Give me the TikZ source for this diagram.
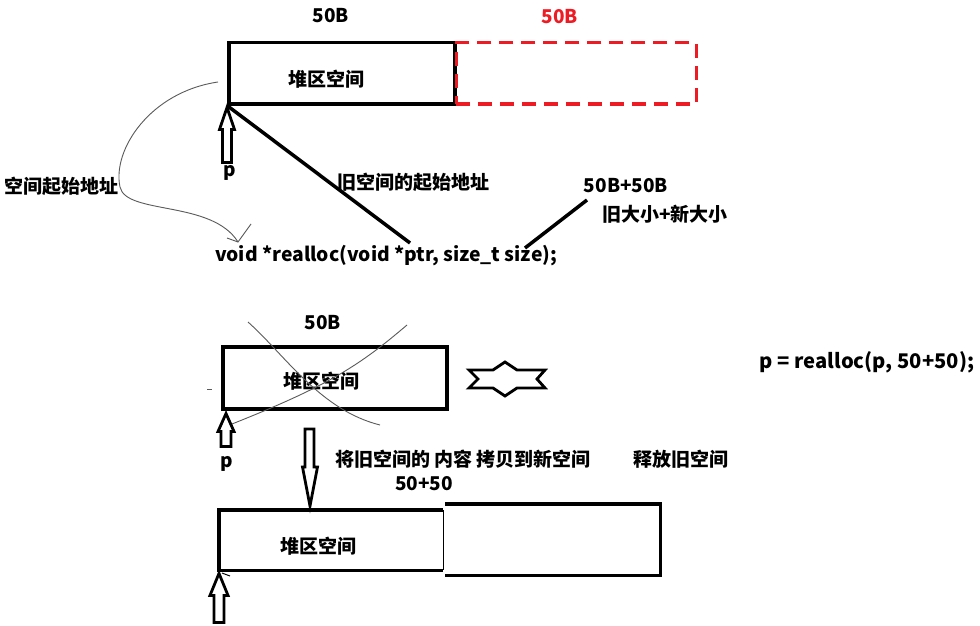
\documentclass[tikz,border=0pt]{standalone}
\usepackage{fontspec}
\newfontfamily\cjk{Noto Sans CJK SC}
\tikzset{
  txt/.style={font=\cjk\bfseries\fontsize{19}{22}\selectfont, inner sep=0pt, text=black},
  heapbox/.style={draw=black, line width=3.5pt, inner sep=0pt},
  redbox/.style={draw={rgb,255:red,237;green,28;blue,36}, line width=3.5pt, dash pattern=on 14pt off 8pt, inner sep=0pt},
  plainbox/.style={draw=none, inner sep=0pt},
  thickline/.style={draw=black, line width=3.5pt},
  hollow/.style={draw=black, fill=white, line width=2.8pt, line join=miter},
  thinpen/.style={draw={rgb,255:red,90;green,90;blue,90}, line width=0.9pt},
}
\begin{document}
\begin{tikzpicture}[x=1pt,y=-1pt]
\useasboundingbox[fill=white] (0,0) rectangle (980,626);

% ---------- top section ----------
\node[heapbox, minimum width=226pt, minimum height=61pt, anchor=north west] (box1) at (227,41) {};
\node[redbox, minimum width=240pt, minimum height=61pt, anchor=north west] (rbox) at (454.5,41) {};
\node[txt] (b1txt) at (326,79) {堆区空间};
\node[txt] (size1) at (331,16) {50B};
\node[txt, text={rgb,255:red,237;green,28;blue,36}] (size2) at (560,17) {50B};

\draw[hollow, shift={(box1.south west)}] (0,2) -- (7.5,24) -- (4.5,24) -- (4.5,57) -- (-4.5,57) -- (-4.5,24) -- (-7.5,24) -- cycle;
\node[txt] (p1) at (230,173) {p};

\node[txt] (startaddr) at (62,186) {空间起始地址};
\node[txt] (oldaddr) at (413,182) {旧空间的起始地址};
\node[txt] (sum1) at (626,186) {50B+50B};
\node[txt] (sum1cn) at (665,214) {旧大小+新大小};
\node[txt, font=\cjk\bfseries\fontsize{19.3}{22}\selectfont] (proto) at (386,256) {void *realloc(void *ptr, size\_t size);};

\coordinate (diagend) at (410,243);
\draw[thickline] (box1.south west) -- (diagend);
\coordinate (sizea) at (587,200);
\coordinate (sizeb) at (525,248);
\draw[thickline] (sizea) -- (sizeb);

\coordinate (curvestart) at (218,82);
\coordinate (curveend) at (238,242);
\draw[thinpen] (curvestart) .. controls (150,92) and (112,150) .. (120,187)
  .. controls (126,215) and (212,200) .. (curveend);
\draw[thinpen] (227,238) -- (curveend) -- (251,224);

% ---------- middle section ----------
\node[heapbox, minimum width=224pt, minimum height=62pt, anchor=north west] (box2) at (221,345) {};
\node[txt] (b2txt) at (321,381) {堆区空间};
\node[txt] (size3) at (323,323) {50B};
\draw[thinpen] (248,322) .. controls (285,355) and (320,410) .. (380,425);
\draw[thinpen] (407,325) .. controls (360,365) and (330,385) .. (232,424);
\coordinate (tick1) at (207,389);
\coordinate (tick2) at (212,389);
\draw[thinpen] (tick1) -- (tick2);

\draw[hollow, shift={(box2.south west)}] (5,3) -- (13,21) -- (10,21) -- (10,36) -- (0,36) -- (0,21) -- (-3,21) -- cycle;
\node[txt] (p2) at (227,464) {p};

\draw[hollow, line width=2.8pt] (505,362) -- (517,370) -- (545,370) -- (537,379) -- (545,388) -- (517,388)
  -- (505,396) -- (493,388) -- (469,388) -- (478,379) -- (469,370) -- (493,370) -- cycle;

\node[txt, font=\cjk\bfseries\fontsize{20.2}{23}\selectfont] (call) at (867,362) {p = realloc(p, 50+50);};

\node[txt] (copy) at (463,459) {将旧空间的 内容 拷贝到新空间};
\node[txt] (free) at (681,459) {释放旧空间};
\node[txt] (sum2) at (424,484) {50+50};

% ---------- bottom section ----------
\node[plainbox, minimum width=224pt, minimum height=60pt, anchor=north west] (box3) at (219,510) {};
\node[txt] (b3txt) at (318,546) {堆区空间};
\draw[thickline] (box3.north east) -- (box3.north west) -- (box3.south west) -- (box3.south east);
\draw[black, line width=1.6pt] (box3.north east) -- (box3.south east);
\node[plainbox, minimum width=215pt, minimum height=71pt, anchor=north west] (box4) at (445,504) {};
\draw[thickline] (box4.north west) -- (box4.north east) -- (box4.south east) -- (box4.south west);

\draw[hollow, shift={(309.5,429)}] (-4.5,0) -- (4.5,0) -- (4.5,38) -- (8,38) -- (0.5,77) -- (-7,38) -- (-4.5,38) -- cycle;

\draw[hollow, shift={(box3.south west)}] (0,3) -- (9,25) -- (5,25) -- (5,52) -- (-5,52) -- (-5,25) -- (-9,25) -- cycle;
\draw[black, line width=1pt] (222,573) -- (230,576);
\end{tikzpicture}
\end{document}
